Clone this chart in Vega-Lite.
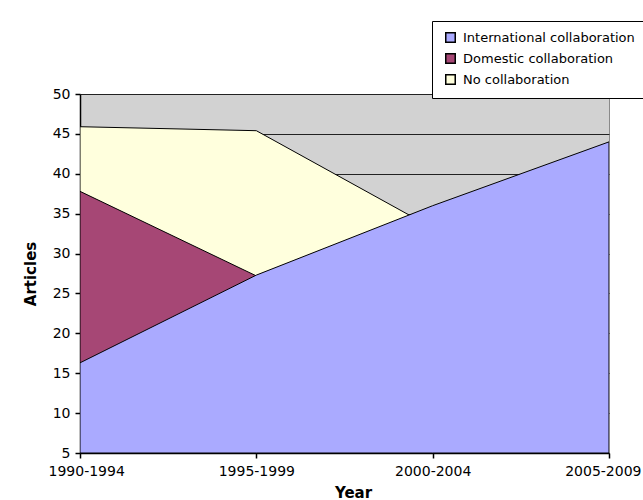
{
  "$schema": "https://vega.github.io/schema/vega-lite/v6.json",
  "autosize": {"type": "none"},
  "padding": {"left": 80, "top": 94, "right": 34, "bottom": 47},
  "width": 529,
  "height": 359,
  "background": "white",
  "config": {
    "font": "DejaVu Sans",
    "view": {"fill": "#D2D2D2", "stroke": "#8a8a8a", "strokeWidth": 1}
  },
  "data": {
    "values": [
      {"period": "1990-1994", "series": "No collaboration", "articles": 45.9},
      {"period": "1995-1999", "series": "No collaboration", "articles": 45.4},
      {"period": "2000-2004", "series": "No collaboration", "articles": 33.2},
      {"period": "2005-2009", "series": "No collaboration", "articles": 30.0},
      {"period": "1990-1994", "series": "Domestic collaboration", "articles": 37.8},
      {"period": "1995-1999", "series": "Domestic collaboration", "articles": 27.2},
      {"period": "2000-2004", "series": "Domestic collaboration", "articles": 24.0},
      {"period": "2005-2009", "series": "Domestic collaboration", "articles": 22.0},
      {"period": "1990-1994", "series": "International collaboration", "articles": 16.3},
      {"period": "1995-1999", "series": "International collaboration", "articles": 27.3},
      {"period": "2000-2004", "series": "International collaboration", "articles": 36.0},
      {"period": "2005-2009", "series": "International collaboration", "articles": 44.0}
    ]
  },
  "encoding": {
    "x": {
      "field": "period",
      "type": "ordinal",
      "scale": {"type": "point", "padding": 0},
      "axis": {
        "title": "Year",
        "titleFont": "DejaVu Sans",
        "titleFontSize": 15,
        "titleFontWeight": "bold",
        "titleColor": "#000",
        "titleX": 273,
        "titleY": 44,
        "titleBaseline": "alphabetic",
        "titleAlign": "center",
        "labelAngle": 0,
        "labelFontSize": 14,
        "labelColor": "#000",
        "labelPadding": 6,
        "labelFlush": true,
        "labelFlushOffset": 32,
        "labelOverlap": false,
        "labelBound": false,
        "domainColor": "#000",
        "domainWidth": 1.5,
        "tickColor": "#000",
        "tickSize": 5,
        "tickWidth": 1.5,
        "grid": false
      }
    },
    "y": {
      "field": "articles",
      "type": "quantitative",
      "scale": {"domain": [5, 50], "zero": false, "nice": false},
      "axis": {
        "title": "Articles",
        "titleFont": "DejaVu Sans",
        "titleFontSize": 15,
        "titleFontWeight": "bold",
        "titleColor": "#000",
        "titlePadding": 14,
        "values": [5, 10, 15, 20, 25, 30, 35, 40, 45, 50],
        "labelFontSize": 14,
        "labelColor": "#000",
        "labelPadding": 5,
        "domainColor": "#000",
        "domainWidth": 1.5,
        "tickColor": "#000",
        "tickSize": 5,
        "tickWidth": 1.5,
        "grid": true,
        "gridColor": "#222",
        "gridWidth": 1
      }
    },
    "y2": {"datum": 5},
    "color": {
      "field": "series",
      "type": "nominal",
      "scale": {
        "domain": ["International collaboration", "Domestic collaboration", "No collaboration"],
        "range": ["#AAAAFF", "#A64775", "#FFFFDD"]
      },
      "legend": {
        "title": null,
        "orient": "none",
        "legendX": 352,
        "legendY": -73,
        "padding": 10,
        "fillColor": "white",
        "strokeColor": "#000",
        "symbolType": "square",
        "symbolSize": 90,
        "symbolStrokeColor": "#000",
        "symbolStrokeWidth": 1.5,
        "symbolOffset": 2,
        "labelFontSize": 13,
        "labelColor": "#000",
        "labelOffset": 6,
        "labelLimit": 400,
        "rowPadding": 4
      }
    }
  },
  "layer": [
    {
      "transform": [{"filter": "datum.series === 'No collaboration'"}],
      "mark": {"type": "area", "stroke": "#000", "strokeWidth": 1, "fillOpacity": 1, "clip": true}
    },
    {
      "transform": [{"filter": "datum.series === 'Domestic collaboration'"}],
      "mark": {"type": "area", "stroke": "#000", "strokeWidth": 1, "fillOpacity": 1, "clip": true}
    },
    {
      "transform": [{"filter": "datum.series === 'International collaboration'"}],
      "mark": {"type": "area", "stroke": "#000", "strokeWidth": 1, "fillOpacity": 1, "clip": true}
    }
  ]
}
